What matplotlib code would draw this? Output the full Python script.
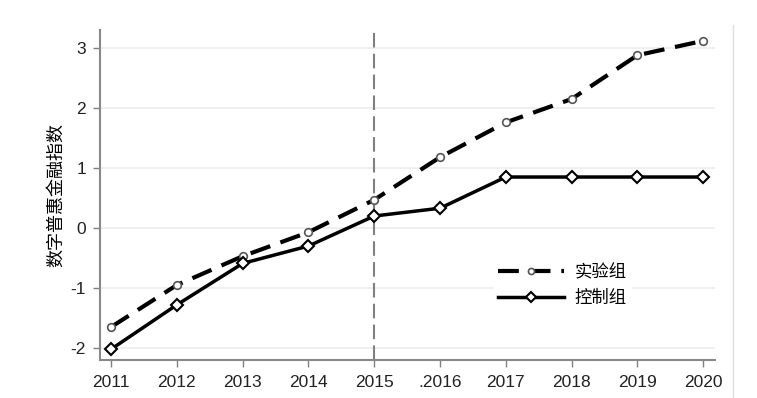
import matplotlib
matplotlib.use('Agg')
import matplotlib.pyplot as plt
from matplotlib.lines import Line2D

plt.rcParams['font.family'] = ['Liberation Sans', 'Noto Sans CJK SC', 'DejaVu Sans']

years = [2011, 2012, 2013, 2014, 2015, 2016, 2017, 2018, 2019, 2020]
year_labels = ['2011', '2012', '2013', '2014', '2015', '.2016', '2017', '2018', '2019', '2020']
treat = [-1.65, -0.95, -0.47, -0.07, 0.47, 1.18, 1.76, 2.15, 2.88, 3.12]
control = [-2.02, -1.28, -0.59, -0.30, 0.20, 0.33, 0.85, 0.85, 0.85, 0.85]
policy_year = 2015

fig = plt.figure(figsize=(7.57, 3.98), dpi=100)
ax = fig.add_axes([0.132, 0.0955, 0.8125, 0.829])

ax.grid(axis='y', color='#ececec', lw=1.2)
ax.set_axisbelow(True)

ax.axvline(policy_year, color='#808080', lw=1.5, ls=(0, (7, 3)), zorder=1)

ax.plot(years, treat, color='black', lw=3, ls=(0, (5, 2.6)),
        marker='o', ms=5.5, mfc='white', mec='#555555', mew=1.2, label='实验组', zorder=3)
ax.plot(years, control, color='black', lw=2.5, ls='-',
        marker='D', ms=6.5, mfc='white', mec='black', mew=1.5, label='控制组', zorder=3)

ax.set_xlim(2010.83, 2020.18)
ax.set_ylim(-2.2, 3.3)
ax.set_xticks(years)
ax.set_xticklabels(year_labels)
ax.set_yticks([-2, -1, 0, 1, 2, 3])
ax.set_yticklabels(['-2', '-1', '0', '1', '2', '3'])
ax.tick_params(axis='both', direction='out', length=5, width=1, color='#808080',
               labelsize=12.5, labelcolor='#222222')
ax.tick_params(axis='x', pad=6)
ax.tick_params(axis='y', pad=5)

for s in ['top', 'right']:
    ax.spines[s].set_visible(False)
for s in ['left', 'bottom']:
    ax.spines[s].set_color('#888888')
    ax.spines[s].set_linewidth(1.5)

ax.set_ylabel('数字普惠金融指数', fontsize=13, family=['Noto Sans CJK SC'], labelpad=4)

leg = ax.legend(loc='center left', bbox_to_anchor=(0.625, 0.226), frameon=True,
                edgecolor='white', facecolor='white', framealpha=1,
                prop={'family': ['Noto Sans CJK SC'], 'size': 12.5},
                handlelength=3.8, labelspacing=0.45, borderpad=0.3, handletextpad=0.6,
                markerscale=0.8)
leg.get_frame().set_linewidth(0)

fig.add_artist(Line2D([733 / 757, 733 / 757], [0, 1 - 25 / 398],
                      transform=fig.transFigure, color='#dddddd', lw=1))

fig.savefig('out.png', dpi=100, facecolor='white')
